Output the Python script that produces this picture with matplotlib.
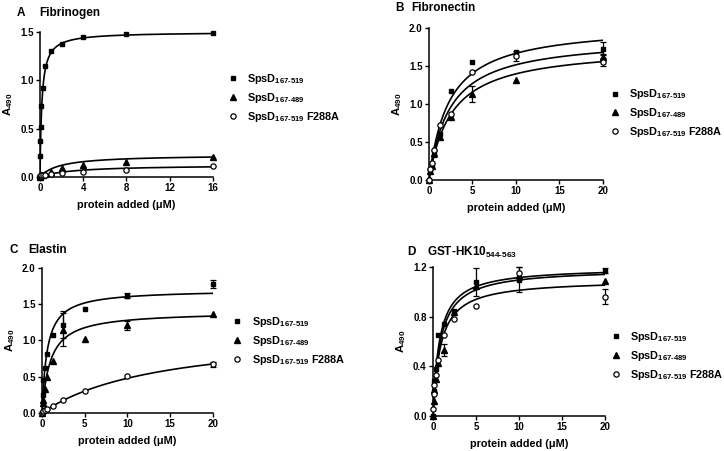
import numpy as np
import matplotlib
matplotlib.use('Agg')
import matplotlib.pyplot as plt
from matplotlib.ticker import FormatStrFormatter

plt.rcParams['font.family'] = ['Liberation Sans', 'DejaVu Sans']
plt.rcParams['font.weight'] = 'bold'
plt.rcParams['mathtext.fontset'] = 'custom'
plt.rcParams['mathtext.rm'] = 'Liberation Sans:bold'
plt.rcParams['mathtext.bf'] = 'Liberation Sans:bold'
plt.rcParams['mathtext.it'] = 'Liberation Sans:bold'
plt.rcParams['mathtext.default'] = 'rm'

# --- Dados ---
labels = [r'SpsD$_{167\text{-}519}$', r'SpsD$_{167\text{-}489}$', r'SpsD$_{167\text{-}519}$ F288A']

# A - Fibrinogen
x_fg = [0, 0.0156, 0.03125, 0.0625, 0.125, 0.25, 0.5, 1, 2, 4, 8, 16]
fg_519 = [0.0, 0.22, 0.37, 0.52, 0.73, 0.92, 1.15, 1.30, 1.38, 1.45, 1.48, 1.49]
fg_489 = [0.0, 0.01, 0.01, 0.02, 0.02, 0.02, 0.03, 0.05, 0.09, 0.12, 0.16, 0.21]
fg_f288a = [0.0, 0.01, 0.01, 0.01, 0.02, 0.02, 0.02, 0.03, 0.04, 0.05, 0.07, 0.11]
fg_bmax = [1.50, 0.23, 0.125]
fg_kd = [0.17, 1.8, 3.0]

# B - Fibronectin
x_fn = [0, 0.156, 0.3125, 0.625, 1.25, 2.5, 5, 10, 20]
fn_519 = [0.0, 0.13, 0.20, 0.38, 0.60, 1.17, 1.55, 1.69, 1.73]
fn_489 = [0.0, 0.12, 0.18, 0.35, 0.57, 0.83, 1.13, 1.32, 1.62]
fn_f288a = [0.0, 0.15, 0.22, 0.40, 0.72, 0.87, 1.42, 1.63, 1.55]
fn_519_err = [0, 0, 0, 0, 0, 0, 0, 0, 0.08]
fn_489_err = [0, 0, 0, 0.05, 0, 0, 0.11, 0, 0.04]
fn_f288a_err = [0, 0, 0, 0, 0, 0, 0, 0.07, 0.05]
fn_bmax = [2.05, 1.76, 1.88]
fn_kd = [2.3, 2.6, 2.4]

# C - Elastin
x_el = [0, 0.078, 0.156, 0.3125, 0.625, 1.25, 2.5, 5, 10, 20]
el_519 = [0.0, 0.25, 0.45, 0.62, 0.82, 1.07, 1.22, 1.43, 1.62, 1.78]
el_489 = [0.0, 0.14, 0.18, 0.33, 0.49, 0.72, 1.15, 1.02, 1.21, 1.37]
el_f288a = [0.0, 0.02, 0.03, 0.04, 0.05, 0.09, 0.18, 0.30, 0.51, 0.67]
el_519_err = [0, 0, 0, 0, 0, 0, 0.19, 0, 0.04, 0.05]
el_489_err = [0, 0, 0, 0, 0, 0, 0.23, 0, 0.06, 0]
el_f288a_err = [0, 0, 0, 0, 0, 0, 0, 0, 0, 0.03]
el_bmax = [1.70, 1.40, 1.15]
el_kd = [0.60, 0.95, 14.0]

# D - GST-HK10 544-563
x_hk = [0, 0.078, 0.156, 0.3125, 0.625, 1.25, 2.5, 5, 10, 20]
hk_519 = [0.0, 0.20, 0.28, 0.38, 0.65, 0.74, 0.85, 1.08, 1.10, 1.17]
hk_489 = [0.0, 0.12, 0.21, 0.30, 0.43, 0.53, 0.84, 1.05, 1.14, 1.09]
hk_f288a = [0.06, 0.18, 0.25, 0.33, 0.45, 0.65, 0.78, 0.89, 1.15, 0.96]
hk_519_err = [0, 0, 0, 0, 0, 0, 0, 0.11, 0.10, 0.02]
hk_489_err = [0, 0, 0, 0, 0, 0.05, 0, 0, 0, 0]
hk_f288a_err = [0, 0, 0, 0, 0, 0, 0, 0, 0.05, 0.06]
hk_bmax = [1.20, 1.19, 1.10]
hk_kd = [0.75, 0.85, 0.85]

markers = [dict(marker='s', ms=3.2, mfc='black', mec='black'),
           dict(marker='^', ms=3.8, mfc='black', mec='black'),
           dict(marker='o', ms=3.8, mfc='white', mec='black', mew=0.9)]

fig = plt.figure(figsize=(7.24, 4.51), dpi=100)


def painel(rect, x, series, errs, bmax, kd, xmax, xticks, ymax, yticks, leg_pos):
    ax = fig.add_axes(rect)
    xf = np.linspace(0, xmax, 400)
    for i, y in enumerate(series):
        ax.plot(xf, bmax[i] * xf / (kd[i] + xf), color='black', lw=1.2, zorder=2)
        if errs is not None:
            e = np.array(errs[i])
            m = e > 0
            ax.errorbar(np.array(x)[m], np.array(y)[m], yerr=e[m], fmt='none',
                        ecolor='black', elinewidth=0.9, capsize=2.5, capthick=0.9,
                        clip_on=False, zorder=3)
        ax.plot(x, y, ls='none', clip_on=False, zorder=4, label=labels[i], **markers[i])
    ax.set_xlim(0, xmax)
    ax.set_ylim(0, ymax)
    ax.set_xticks(xticks)
    ax.set_yticks(yticks)
    ax.yaxis.set_major_formatter(FormatStrFormatter('%.1f'))
    for s in ['top', 'right']:
        ax.spines[s].set_visible(False)
    for s in ['left', 'bottom']:
        ax.spines[s].set_linewidth(1.1)
    ax.tick_params(direction='out', length=3, width=1.0, labelsize=7, pad=1.5)
    for t in ax.get_xticklabels() + ax.get_yticklabels():
        t.set_fontweight('bold')
    ax.set_xlabel(u'protein added (\u03bcM)', fontsize=7.8, fontweight='bold', labelpad=5)
    ax.set_ylabel(r'A$_{490}$', fontsize=8.2, fontweight='bold', labelpad=4)
    ax.legend(loc='center left', bbox_to_anchor=leg_pos, bbox_transform=fig.transFigure,
              frameon=False, fontsize=7.8, handlelength=0.8, handletextpad=0.9,
              labelspacing=0.45, borderpad=0, borderaxespad=0)
    return ax


painel([0.0552, 0.6075, 0.239, 0.3215], x_fg, [fg_519, fg_489, fg_f288a], None,
       fg_bmax, fg_kd, 16, [0, 4, 8, 12, 16], 1.5, [0, 0.5, 1.0, 1.5], (0.316, 0.783))
painel([0.5925, 0.6009, 0.2403, 0.337], x_fn, [fn_519, fn_489, fn_f288a],
       [fn_519_err, fn_489_err, fn_f288a_err], fn_bmax, fn_kd, 20, [0, 5, 10, 15, 20],
       2.0, [0, 0.5, 1.0, 1.5, 2.0], (0.843, 0.749))
painel([0.058, 0.0843, 0.236, 0.3215], x_el, [el_519, el_489, el_f288a],
       [el_519_err, el_489_err, el_f288a_err], el_bmax, el_kd, 20, [0, 5, 10, 15, 20],
       2.0, [0, 0.5, 1.0, 1.5, 2.0], (0.322, 0.244))
painel([0.598, 0.0776, 0.2376, 0.330], x_hk, [hk_519, hk_489, hk_f288a],
       [hk_519_err, hk_489_err, hk_f288a_err], hk_bmax, hk_kd, 20, [0, 5, 10, 15, 20],
       1.2, [0, 0.4, 0.8, 1.2], (0.845, 0.211))

# --- Títulos dos painéis ---
titulos = [('A', 17, 13, 'Fibrinogen', 39), ('B', 395, 8, 'Fibronectin', 411),
           ('C', 10, 250, 'Elastin', 28), ('D', 407, 252, r'GST-HK10$_{544\text{-}563}$', 427)]
for letra, xl, yl, nome, xn in titulos:
    fig.text(xl / 724, 1 - yl / 451, letra, fontsize=8.5, fontweight='bold', va='center', ha='left')
    fig.text(xn / 724, 1 - yl / 451, nome, fontsize=8.5, fontweight='bold', va='center', ha='left')

fig.savefig('out.png', dpi=100)
